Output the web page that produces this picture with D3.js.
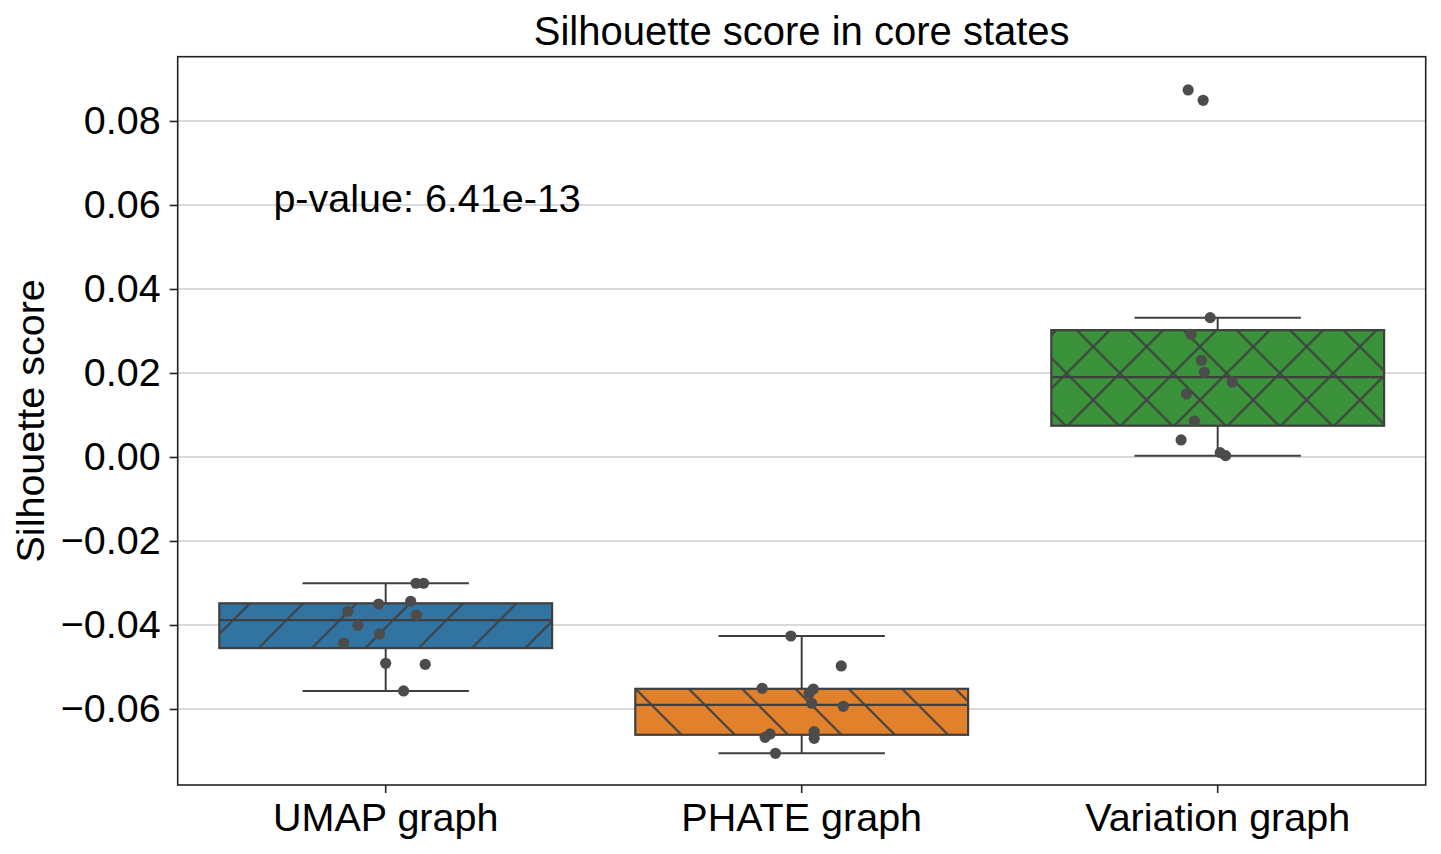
<!DOCTYPE html>
<html>
<head>
<meta charset="utf-8">
<script src="https://cdn.jsdelivr.net/npm/d3@7"></script>
<style>
  html, body { margin: 0; padding: 0; background: #fff; }
  svg text { font-family: Arial, "Liberation Sans", sans-serif; fill: #000; }
</style>
</head>
<body>
<svg id="chart" width="1441" height="854"></svg>
<script>
// Silhouette score per graph type
const categories = ['UMAP graph', 'PHATE graph', 'Variation graph'];
const fills = ['#3274a1', '#e1812c', '#3a923a'];
const hatches = ['fwd', 'back', 'cross'];

const umapScores = [-0.03007, -0.03007, -0.03500, -0.03436, -0.03675, -0.03762,
                    -0.04008, -0.04214, -0.04429, -0.04913, -0.04937, -0.05571];
const phateScores = [-0.04262, -0.04976, -0.05507, -0.05524, -0.05626, -0.05864,
                     -0.05936, -0.06595, -0.06674, -0.06540, -0.06698, -0.07055];
const variationScores = [0.08738, 0.08492, 0.03317, 0.02921, 0.02302, 0.02016,
                         0.01786, 0.01500, 0.00857, 0.00405, 0.00103, 0.00032];

// strip-plot jitter, as a fraction of the category width
const umapJitter = [0.073, 0.091, -0.017, 0.060, -0.091, 0.074,
                    -0.067, -0.015, -0.101, 0.000, 0.095, 0.043];
const phateJitter = [-0.026, 0.095, -0.095, 0.028, 0.018, 0.024,
                     0.100, -0.076, -0.088, 0.030, 0.030, -0.063];
const variationJitter = [-0.071, -0.035, -0.018, -0.064, -0.039, -0.032,
                         0.035, -0.075, -0.056, -0.088, 0.006, 0.019];

const yTicks = [-0.06, -0.04, -0.02, 0.00, 0.02, 0.04, 0.06, 0.08];
const yDomain = [-0.0781, 0.0953];

const title = 'Silhouette score in core states';
const yLabel = 'Silhouette score';
const annotation = 'p-value: 6.41e-13';

(function () {
  const groups = categories.map((name, i) => ({
    name,
    fill: fills[i],
    hatch: hatches[i],
    values: [umapScores, phateScores, variationScores][i],
    jitter: [umapJitter, phateJitter, variationJitter][i],
  }));

  const svg = d3.select('#chart');
  const plotL = 177.7, plotR = 1425.7, plotT = 56.7, plotB = 785;
  const FONT = 39.5;
  const EDGE = '#3f3f3f';

  const x = d3.scaleBand().domain(categories).range([plotL, plotR]);
  const y = d3.scaleLinear().domain(yDomain).range([plotB, plotT]);
  const bw = x.bandwidth();
  const cx = name => x(name) + bw / 2;

  // ---- hatch patterns, tiled from the page origin like matplotlib ----
  const P = 53.33;
  const defs = svg.append('defs');
  const hatchPaths = {
    fwd: `M-2,2 L2,-2 M0,${P} L${P},0 M${P - 2},${P + 2} L${P + 2},${P - 2}`,
    back: `M-2,${P - 2} L2,${P + 2} M0,0 L${P},${P} M${P - 2},-2 L${P + 2},2`,
  };
  hatchPaths.cross = hatchPaths.fwd + ' ' + hatchPaths.back;
  Object.entries(hatchPaths).forEach(([id, d]) => {
    defs.append('pattern')
      .attr('id', 'hatch-' + id)
      .attr('patternUnits', 'userSpaceOnUse')
      .attr('x', 0).attr('y', 0)
      .attr('width', P).attr('height', P)
      .append('path')
      .attr('d', d)
      .attr('stroke', EDGE)
      .attr('stroke-width', 2)
      .attr('fill', 'none');
  });

  // ---- grid ----
  svg.append('g')
    .selectAll('line')
    .data(yTicks)
    .join('line')
    .attr('x1', plotL).attr('x2', plotR)
    .attr('y1', d => y(d)).attr('y2', d => y(d))
    .attr('stroke', '#cccccc')
    .attr('stroke-width', 1.6);

  // ---- boxes ----
  function stats(vals) {
    const s = vals.slice().sort(d3.ascending);
    const q1 = d3.quantile(s, 0.25), med = d3.quantile(s, 0.5), q3 = d3.quantile(s, 0.75);
    const iqr = q3 - q1;
    const lo = d3.min(s.filter(v => v >= q1 - 1.5 * iqr));
    const hi = d3.max(s.filter(v => v <= q3 + 1.5 * iqr));
    return { q1, med, q3, lo, hi };
  }

  const boxW = bw * 0.8;
  const capW = boxW * 0.5;

  groups.forEach(gr => {
    const st = stats(gr.values);
    const c = cx(gr.name);
    const g = svg.append('g');

    // whiskers
    g.append('line')
      .attr('x1', c).attr('x2', c)
      .attr('y1', y(st.q3)).attr('y2', y(st.hi))
      .attr('stroke', EDGE).attr('stroke-width', 2);
    g.append('line')
      .attr('x1', c).attr('x2', c)
      .attr('y1', y(st.q1)).attr('y2', y(st.lo))
      .attr('stroke', EDGE).attr('stroke-width', 2);
    [st.hi, st.lo].forEach(v => {
      g.append('line')
        .attr('x1', c - capW / 2).attr('x2', c + capW / 2)
        .attr('y1', y(v)).attr('y2', y(v))
        .attr('stroke', EDGE).attr('stroke-width', 2);
    });

    // box body + hatch
    g.append('rect')
      .attr('x', c - boxW / 2).attr('width', boxW)
      .attr('y', y(st.q3)).attr('height', y(st.q1) - y(st.q3))
      .attr('fill', gr.fill);
    g.append('rect')
      .attr('x', c - boxW / 2).attr('width', boxW)
      .attr('y', y(st.q3)).attr('height', y(st.q1) - y(st.q3))
      .attr('fill', `url(#hatch-${gr.hatch})`)
      .attr('stroke', EDGE).attr('stroke-width', 2.2);

    // median
    g.append('line')
      .attr('x1', c - boxW / 2).attr('x2', c + boxW / 2)
      .attr('y1', y(st.med)).attr('y2', y(st.med))
      .attr('stroke', EDGE).attr('stroke-width', 2.2);
  });

  // ---- strip points ----
  groups.forEach(gr => {
    svg.append('g')
      .selectAll('circle')
      .data(gr.values.map((v, i) => ({ v, j: gr.jitter[i] })))
      .join('circle')
      .attr('cx', d => cx(gr.name) + d.j * bw)
      .attr('cy', d => y(d.v))
      .attr('r', 5.6)
      .attr('fill', '#4c4c4c');
  });

  // ---- axes ----
  const yAxis = d3.axisLeft(y)
    .tickValues(yTicks)
    .tickFormat(d3.format('.2f'))
    .tickSize(8)
    .tickPadding(9);
  const gy = svg.append('g').attr('transform', `translate(${plotL},0)`).call(yAxis);
  gy.select('.domain').remove();
  gy.selectAll('.tick line').attr('stroke', '#222').attr('stroke-width', 1.6);
  gy.selectAll('.tick text').attr('font-size', FONT).attr('fill', '#000');

  const xAxis = d3.axisBottom(x).tickSize(8).tickPadding(10);
  const gx = svg.append('g').attr('transform', `translate(0,${plotB})`).call(xAxis);
  gx.select('.domain').remove();
  gx.selectAll('.tick line').attr('stroke', '#222').attr('stroke-width', 1.6);
  gx.selectAll('.tick text').attr('font-size', FONT).attr('fill', '#000');

  // frame
  svg.append('rect')
    .attr('x', plotL).attr('y', plotT)
    .attr('width', plotR - plotL).attr('height', plotB - plotT)
    .attr('fill', 'none')
    .attr('stroke', '#222')
    .attr('stroke-width', 1.6);

  // ---- texts ----
  svg.append('text')
    .attr('x', (plotL + plotR) / 2).attr('y', 45)
    .attr('text-anchor', 'middle')
    .attr('font-size', 40)
    .text(title);

  svg.append('text')
    .attr('transform', `translate(44,${(plotT + plotB) / 2}) rotate(-90)`)
    .attr('text-anchor', 'middle')
    .attr('font-size', FONT)
    .text(yLabel);

  // annotation placed in data coordinates (category units, score)
  svg.append('text')
    .attr('x', cx(categories[0]) - 0.27 * bw)
    .attr('y', y(0.0584))
    .attr('font-size', FONT)
    .text(annotation);
})();
</script>
</body>
</html>
